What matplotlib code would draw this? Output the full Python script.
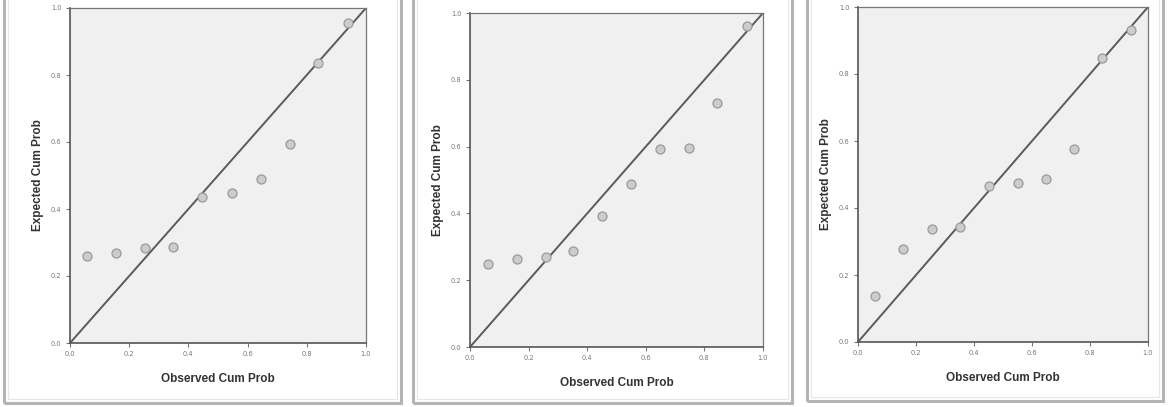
import matplotlib.pyplot as plt
from matplotlib.patches import Rectangle

# P-P plot data (observed vs expected cumulative probability)
obs_1 = [0.058, 0.155, 0.253, 0.349, 0.445, 0.548, 0.645, 0.743, 0.839, 0.938]
exp_1 = [0.260, 0.270, 0.284, 0.287, 0.437, 0.447, 0.490, 0.594, 0.835, 0.955]

obs_2 = [0.060, 0.160, 0.259, 0.353, 0.450, 0.549, 0.647, 0.747, 0.844, 0.945]
exp_2 = [0.250, 0.262, 0.270, 0.286, 0.392, 0.487, 0.593, 0.596, 0.732, 0.962]

obs_3 = [0.058, 0.156, 0.254, 0.352, 0.453, 0.550, 0.648, 0.746, 0.843, 0.940]
exp_3 = [0.137, 0.278, 0.336, 0.342, 0.466, 0.475, 0.486, 0.576, 0.849, 0.931]

ticks = [0.0, 0.2, 0.4, 0.6, 0.8, 1.0]
tick_labels = ['0.0', '0.2', '0.4', '0.6', '0.8', '1.0']
ref_line = [0.0, 1.0]

W, H = 1168, 407
fig = plt.figure(figsize=(W / 100, H / 100), dpi=100)
fig.patch.set_facecolor('white')


def px_rect(left, top, right, bottom):
    return [left / W, 1 - bottom / H, (right - left) / W, (bottom - top) / H]


# panel frames (gray borders of the screenshot)
frames = [(4, -10, 401, 403), (413, -10, 792, 403), (807, -10, 1163, 401)]
for l, t, r, b in frames:
    x0, y0, w, h = px_rect(l, t, r, b)
    fig.patches.append(Rectangle((x0, y0), w, h, transform=fig.transFigure,
                                 fill=False, edgecolor='#b4b4b4', linewidth=2.2, zorder=0))
    x0, y0, w, h = px_rect(l + 4, t, r - 4, b - 4)
    fig.patches.append(Rectangle((x0, y0), w, h, transform=fig.transFigure,
                                 fill=False, edgecolor='#e6e6e6', linewidth=0.8, zorder=0))

panels = [
    (obs_1, exp_1, (70, 8, 366, 343)),
    (obs_2, exp_2, (470, 13, 763, 347)),
    (obs_3, exp_3, (858, 7, 1148, 342)),
]

for obs, exp, box in panels:
    ax = fig.add_axes(px_rect(*box))
    ax.set_facecolor('#f0f0f0')
    ax.plot(ref_line, ref_line, color='#5a5a5a', linewidth=1.4, zorder=2)
    ax.scatter(obs, exp, s=42, facecolor='#cccccc', edgecolor='#9a9a9a',
               linewidth=0.9, zorder=3)
    ax.set_xlim(0, 1)
    ax.set_ylim(0, 1)
    ax.set_xticks(ticks)
    ax.set_yticks(ticks)
    ax.set_xticklabels(tick_labels, fontsize=4.8, color='#777777')
    ax.set_yticklabels(tick_labels, fontsize=4.8, color='#777777')
    ax.tick_params(length=3, width=0.8, color='#777777', pad=3)
    for side in ['left', 'bottom']:
        ax.spines[side].set_color('#555555')
        ax.spines[side].set_linewidth(1.2)
    for side in ['right', 'top']:
        ax.spines[side].set_color('#777777')
        ax.spines[side].set_linewidth(0.9)
    ax.set_xlabel('Observed Cum Prob', fontsize=8.5, fontweight='bold',
                  family='Liberation Sans', color='#333333', labelpad=11)
    ax.set_ylabel('Expected Cum Prob', fontsize=8.5, fontweight='bold',
                  family='Liberation Sans', color='#333333', labelpad=5)

fig.savefig('out.png', dpi=100)
